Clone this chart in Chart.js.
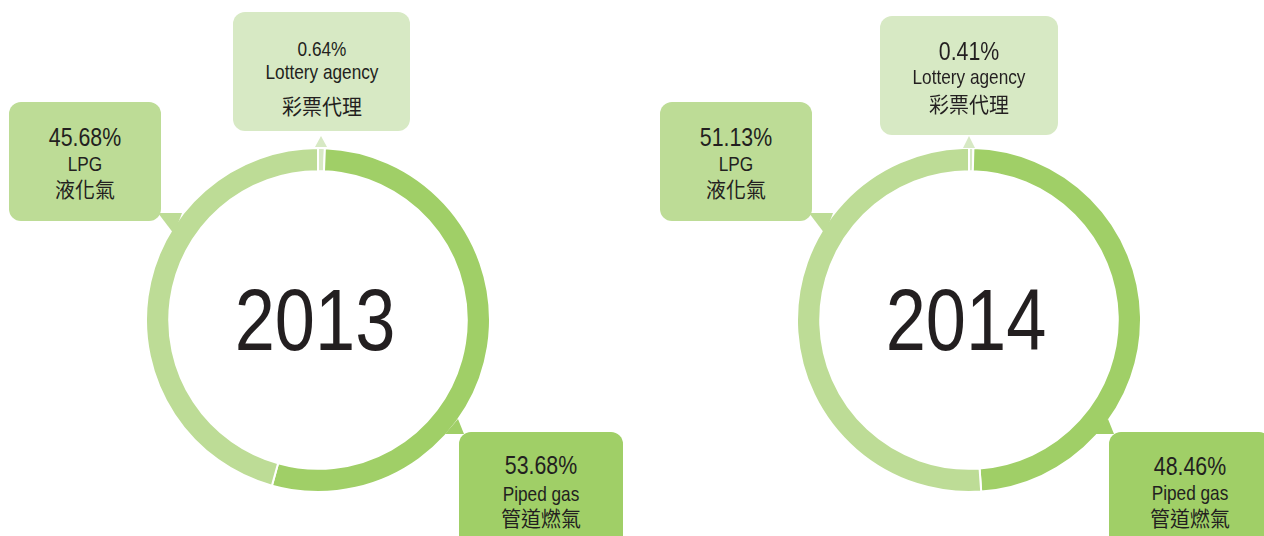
<!DOCTYPE html>
<html>
<head>
<meta charset="utf-8">
<script src="https://cdn.jsdelivr.net/npm/chart.js@4.4.0/dist/chart.umd.min.js"></script>
<style>
  html, body { margin:0; padding:0; background:#fff; }
  #stage { position:relative; width:1264px; height:536px; overflow:hidden; background:#fff; }
  .box { position:absolute; border-radius:12px; }
  .ptr { position:absolute; }
  .txt { position:absolute; white-space:nowrap; color:#231f20; text-align:center;
         transform:translateX(-50%) scaleX(0.82);
         font-family:"Liberation Sans",Arial,sans-serif; }
  .zh { font-family:"Noto Sans CJK TC","Noto Sans CJK SC",sans-serif; transform:translateX(-50%) scaleX(0.95); }
  canvas { position:absolute; }
</style>
</head>
<body>
<div id="stage"></div>
<script>
// ---- data ----
const years = ['2013', '2014'];
const categories = ['Lottery agency', 'Piped gas', 'LPG'];
const categoriesZh = ['彩票代理', '管道燃氣', '液化氣'];
const values2013 = [0.64, 53.68, 45.68];
const values2014 = [0.41, 48.46, 51.13];
const seriesValues = [values2013, values2014];

// ---- styles / layout ----
const colors = ['#d7e9c4', '#a0cf67', '#bddc96'];
const layout = [
  { cx: 318, cy: 320, size: 346,
    boxes: [
      { x: 233, y: 12, w: 177, h: 119, tx: 322, lines: [48, 71.5, 106], pct: 21,
        ptr: [[315,147],[321,136],[327,147]] },
      { x: 459, y: 432, w: 164, h: 120, tx: 541, lines: [465, 493, 518], pct: 26,
        ptr: [[445,434],[458,419],[464,434]] },
      { x: 9, y: 102, w: 152, h: 119, tx: 85, lines: [137, 163.5, 189.5], pct: 26,
        ptr: [[158,213],[182,213],[174,234]] }
    ] },
  { cx: 969, cy: 320, size: 346,
    boxes: [
      { x: 880, y: 16, w: 178, h: 119, tx: 969, lines: [51, 76.5, 104.5], pct: 26,
        ptr: [[963,148],[969,136],[975,148]] },
      { x: 1109, y: 432, w: 162, h: 120, tx: 1190, lines: [466, 492.5, 518], pct: 26,
        ptr: [[1095,434],[1108,419],[1114,434]] },
      { x: 660, y: 102, w: 152, h: 119, tx: 736, lines: [137, 163.5, 189.5], pct: 26,
        ptr: [[809,213],[833,213],[825,234]] }
    ] }
];

const stage = document.getElementById('stage');
function el(cls, css, text) {
  const d = document.createElement('div');
  d.className = cls;
  Object.assign(d.style, css);
  if (text !== undefined) d.textContent = text;
  stage.appendChild(d);
  return d;
}

years.forEach((yr, i) => {
  const L = layout[i];
  const vals = seriesValues[i];
  // doughnut
  const cv = document.createElement('canvas');
  cv.width = L.size; cv.height = L.size;
  cv.style.left = (L.cx - L.size/2) + 'px';
  cv.style.top = (L.cy - L.size/2) + 'px';
  cv.style.width = L.size + 'px'; cv.style.height = L.size + 'px';
  stage.appendChild(cv);
  new Chart(cv, {
    type: 'doughnut',
    data: {
      labels: categories,
      datasets: [{ data: vals, backgroundColor: colors, borderColor: '#ffffff', borderWidth: 2 }]
    },
    options: {
      responsive: false, animation: false, events: [],
      cutout: '86.5%',
      layout: { padding: 0 },
      plugins: { legend: { display: false }, tooltip: { enabled: false } }
    }
  });
  // year label
  el('txt', { left: L.cx - 3 + 'px', top: (L.cy - 44) + 'px', fontSize: '88px', lineHeight: '88px' }, yr);

  // boxes
  L.boxes.forEach((b, k) => {
    el('box', { left: b.x+'px', top: b.y+'px', width: b.w+'px', height: b.h+'px', background: colors[k] });
    const xs = b.ptr.map(p => p[0]), ys = b.ptr.map(p => p[1]);
    const minx = Math.min(...xs), miny = Math.min(...ys);
    const w = Math.max(...xs) - minx, h = Math.max(...ys) - miny;
    el('ptr', { left: minx+'px', top: miny+'px', width: w+'px', height: h+'px', background: colors[k],
      clipPath: 'polygon(' + b.ptr.map(p => (p[0]-minx)+'px '+(p[1]-miny)+'px').join(',') + ')' });
    const pctTxt = vals[k].toFixed(2) + '%';
    el('txt', { left: b.tx+'px', top: (b.lines[0] - b.pct/2)+'px', fontSize: b.pct+'px', lineHeight: b.pct+'px' }, pctTxt);
    el('txt', { left: b.tx+'px', top: (b.lines[1] - 10.5)+'px', fontSize: '21px', lineHeight: '21px' }, categories[k]);
    el('txt zh', { left: b.tx+'px', top: (b.lines[2] - 11.5)+'px', fontSize: '21px', lineHeight: '21px' }, categoriesZh[k]);
  });
});
</script>
</body>
</html>
